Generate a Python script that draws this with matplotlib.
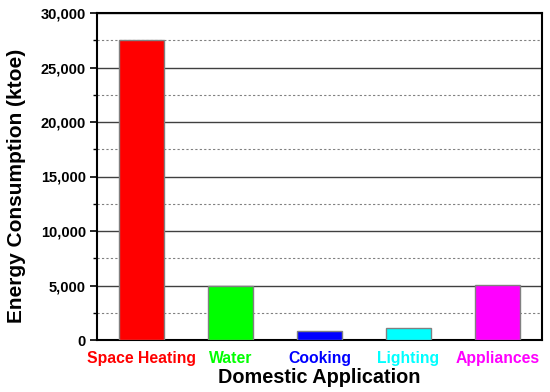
import matplotlib
matplotlib.use("Agg")
import matplotlib.pyplot as plt
from matplotlib.ticker import MultipleLocator, FuncFormatter

plt.rcParams['font.family'] = ['Liberation Sans', 'DejaVu Sans']

# data
categories = ['Space Heating', 'Water', 'Cooking', 'Lighting', 'Appliances']
consumption = [27500, 5000, 820, 1100, 5050]
bar_colors = ['#ff0000', '#00ff00', '#0000ff', '#00ffff', '#ff00ff']

fig = plt.figure(figsize=(5.5, 3.92), dpi=100)
ax = fig.add_axes([97 / 550, 1 - 340 / 392, 445 / 550, 327 / 392])

x = list(range(len(categories)))
ax.bar(x, consumption, width=0.5, color=bar_colors, edgecolor='#808080',
       linewidth=1, zorder=3)

ax.set_xlim(-0.5, 4.5)
ax.set_ylim(0, 30000)
ax.yaxis.set_major_locator(MultipleLocator(5000))
ax.yaxis.set_minor_locator(MultipleLocator(2500))
ax.yaxis.set_major_formatter(FuncFormatter(lambda v, p: f'{int(v):,}'))

# grid: solid majors, dotted minors
ax.grid(axis='y', which='major', color='#404040', linewidth=1, zorder=0)
ax.grid(axis='y', which='minor', color='#808080', linewidth=0.8,
        linestyle=(0, (2, 2)), zorder=0)

ax.set_xticks(x)
ax.set_xticklabels(categories, fontsize=11.3, fontweight='bold')
for lbl, c in zip(ax.get_xticklabels(), bar_colors):
    lbl.set_color(c)
ax.tick_params(axis='x', length=0, pad=8)
ax.tick_params(axis='y', which='major', length=5, width=1.2, labelsize=10.5,
               direction='out', pad=3)
ax.tick_params(axis='y', which='minor', length=3, width=1, direction='out')
for lbl in ax.get_yticklabels():
    lbl.set_fontweight('bold')

for s in ax.spines.values():
    s.set_linewidth(1.5)
    s.set_color('black')

ax.set_xlabel('Domestic Application', fontsize=14.3, fontweight='bold')
ax.set_ylabel('Energy Consumption (ktoe)', fontsize=15, fontweight='bold')
ax.xaxis.set_label_coords(0.5, -0.085, transform=ax.transAxes)
ax.yaxis.set_label_coords(-0.182, 0.47, transform=ax.transAxes)
ax.xaxis.label.set_va('top')
ax.yaxis.label.set_va('center')

fig.savefig('out.png', dpi=100)
